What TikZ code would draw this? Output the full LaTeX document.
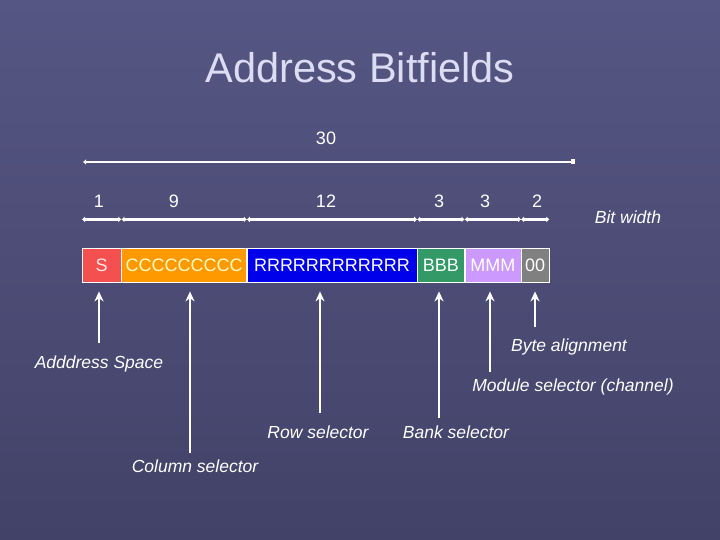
\documentclass[tikz,border=0pt]{standalone}
\usepackage{fontspec}
\setmainfont{Liberation Sans}
\usetikzlibrary{arrows.meta, positioning}

\definecolor{bgtop}{RGB}{86,86,132}
\definecolor{bgbot}{RGB}{66,66,104}
\definecolor{titlecol}{RGB}{220,220,242}
\definecolor{scol}{RGB}{245,80,80}
\definecolor{ccol}{RGB}{255,153,0}
\definecolor{rcol}{RGB}{0,0,235}
\definecolor{bcol}{RGB}{51,153,102}
\definecolor{mcol}{RGB}{204,153,255}
\definecolor{zcol}{RGB}{128,128,128}

\begin{document}
\begin{tikzpicture}[x=1pt, y=-1pt]
    \tikzset{
        field/.style = {rectangle, draw=white, thin, inner sep=0pt, minimum height=34pt, font=\fontsize{18}{20}\selectfont},
        arr/.style = {draw=white, line width=2.6pt, -{Stealth[length=10pt, width=9pt]}, shorten >=9pt},
        dim/.style = {draw=white, line width=2.4pt, {Latex[length=3pt, width=6pt]}-{Latex[length=3pt, width=6pt]}},
        num/.style = {text=white, font=\fontsize{18}{20}\selectfont},
        label/.style = {text=white, font=\fontsize{17.5}{20}\selectfont\itshape},
    }

    % background
    \shade[top color=bgtop, bottom color=bgbot] (0,0) rectangle (720,540);

    \node[text=titlecol, font=\fontsize{41.5}{46}\selectfont](title) at (360,68){Address Bitfields};

    % fields
    \node[field, fill=scol, text=white!85!scol, minimum width=39pt, anchor=north west](s) at (82,248){S};
    \node[field, fill=ccol, text=yellow!25, minimum width=125pt](c)[right = 0pt of s]{CCCCCCCCC};
    \node[field, fill=rcol, text=white, minimum width=170pt](r)[right = 0pt of c]{RRRRRRRRRRRR};
    \node[field, fill=bcol, text=white, minimum width=47pt](b)[right = 0pt of r]{BBB};
    \node[field, fill=mcol, text=white, minimum width=56pt](m)[right = 0pt of b]{MMM};
    \node[field, fill=zcol, text=white, minimum width=28pt](z)[right = 0pt of m]{00};

    % bit widths
    \coordinate (tl) at (83,162);
    \coordinate (tr) at (575,162);
    \draw[draw=white, line width=2.4pt, {Latex[length=3pt, width=6pt]}-{Square[length=4pt, width=5pt]}] (tl) -- (tr);
    \node[num](total) at (326,138){30};

    \foreach \f in {s,c,r,b,m,z}
        \draw[dim] ([yshift=63pt]\f.south west) -- ([yshift=63pt]\f.south east);

    \node[num](ws) at (99,201){1};
    \node[num](wc) at (174,201){9};
    \node[num](wr) at (326,201){12};
    \node[num](wb) at (439,201){3};
    \node[num](wm) at (485,201){3};
    \node[num](wz) at (537,201){2};
    \node[label](bitwidth) at (628,217){Bit width};

    % selectors
    \coordinate (sbase) at (99,343);
    \coordinate (cbase) at (190,453);
    \coordinate (rbase) at (320,413);
    \coordinate (bbase) at (439,418);
    \coordinate (mbase) at (490,372);
    \coordinate (zbase) at (535,327);

    \path [arr] (sbase) -- (s.south -| sbase);
    \path [arr] (cbase) -- (c.south -| cbase);
    \path [arr] (rbase) -- (r.south -| rbase);
    \path [arr] (bbase) -- (b.south -| bbase);
    \path [arr] (mbase) -- (m.south -| mbase);
    \path [arr] (zbase) -- (z.south -| zbase);

    \node[label](space) at (99,364){Adddress Space};
    \node[label](column) at (195,466){Column selector};
    \node[label](row) at (318,432){Row selector};
    \node[label](bank) at (456,432){Bank selector};
    \node[label](module) at (573,387){Module selector (channel)};
    \node[label](byte) at (569,347){Byte alignment};

\end{tikzpicture}
\end{document}
